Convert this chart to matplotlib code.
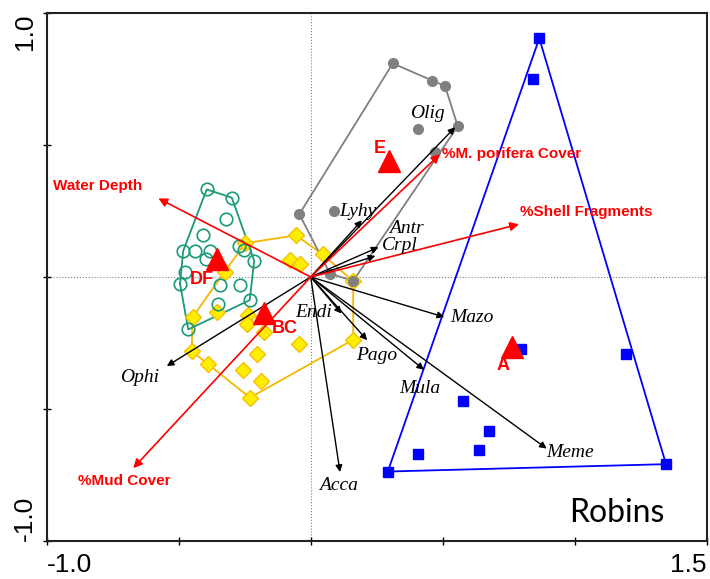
import numpy as np
import matplotlib.pyplot as plt
import matplotlib.transforms as mtransforms

# site scores by group (axis 1, axis 2)
df_x = [-0.394, -0.299, -0.321, -0.409, -0.483, -0.437, -0.381, -0.397, -0.270,
        -0.251, -0.214, -0.476, -0.495, -0.344, -0.268, -0.350, -0.231, -0.464]
df_y = [0.332, 0.301, 0.218, 0.158, 0.099, 0.098, 0.099, 0.070, 0.117,
        0.103, 0.062, 0.017, -0.025, -0.032, -0.032, -0.104, -0.088, -0.199]

bc_x = [-0.249, -0.056, 0.045, -0.078, -0.041, 0.161, -0.325, -0.447, -0.354, -0.236,
        -0.240, -0.177, -0.043, 0.161, -0.451, -0.202, -0.388, -0.255, -0.189, -0.230]
bc_y = [0.128, 0.158, 0.086, 0.063, 0.051, -0.016, 0.019, -0.152, -0.133, -0.145,
        -0.177, -0.209, -0.256, -0.238, -0.281, -0.291, -0.331, -0.352, -0.395, -0.458]

e_x = [0.311, 0.458, 0.509, 0.557, 0.405, 0.471, -0.043, 0.088, 0.073, 0.161]
e_y = [0.810, 0.744, 0.724, 0.572, 0.560, 0.475, 0.238, 0.251, 0.013, -0.015]

a_x = [0.866, 0.841, 0.797, 1.194, 0.578, 0.674, 0.636, 0.406, 0.292, 1.346]
a_y = [0.905, 0.752, -0.274, -0.293, -0.472, -0.583, -0.655, -0.670, -0.738, -0.710]

# group centroids
cent_names = ['DF', 'BC', 'E', 'A']
cent_x = [-0.356, -0.177, 0.298, 0.764]
cent_y = [0.070, -0.137, 0.439, -0.266]

# species arrows
sp_names = ['Olig', 'Lyhy', 'Antr', 'Crpl', 'Mazo', 'Pago', 'Mula', 'Meme', 'Endi', 'Acca', 'Ophi']
sp_x = [0.547, 0.194, 0.257, 0.245, 0.506, 0.214, 0.429, 0.894, 0.117, 0.111, -0.545]
sp_y = [0.568, 0.215, 0.113, 0.080, -0.152, -0.240, -0.352, -0.651, -0.139, -0.740, -0.338]

# environmental arrows
env_names = ['Water Depth', '%M. porifera Cover', '%Shell Fragments', '%Mud Cover']
env_x = [-0.577, 0.490, 0.789, -0.672]
env_y = [0.298, 0.466, 0.200, -0.725]

# label placement
sp_lab_x = [0.443, 0.179, 0.364, 0.338, 0.612, 0.250, 0.414, 0.982, 0.010, 0.105, -0.647]
sp_lab_y = [0.620, 0.249, 0.184, 0.120, -0.154, -0.297, -0.424, -0.664, -0.135, -0.791, -0.380]
env_lab_x = [-0.808, 0.496, 0.793, -0.706]
env_lab_y = [0.344, 0.466, 0.247, -0.772]
env_lab_ha = ['center', 'left', 'left', 'center']
cent_off = [(-11, -15), (15, -11), (-7, 9), (-7, -13)]


def hull(xs, ys):
    pts = sorted(set(zip(xs, ys)))

    def cross(o, a, b):
        return (a[0]-o[0])*(b[1]-o[1]) - (a[1]-o[1])*(b[0]-o[0])
    lower, upper = [], []
    for p in pts:
        while len(lower) >= 2 and cross(lower[-2], lower[-1], p) <= 0:
            lower.pop()
        lower.append(p)
    for p in reversed(pts):
        while len(upper) >= 2 and cross(upper[-2], upper[-1], p) <= 0:
            upper.pop()
        upper.append(p)
    h = lower[:-1] + upper[:-1]
    h.append(h[0])
    return np.array(h)


fig = plt.figure(figsize=(7.1, 5.79), dpi=100)
ax = fig.add_axes([0.0658, 0.0663, 0.9295, 0.9107])

ax.axhline(0, color='gray', lw=0.8, ls=':', zorder=1)
ax.axvline(0, color='gray', lw=0.8, ls=':', zorder=1)

groups = [
    (bc_x, bc_y, '#f5b800', dict(marker='D', ms=8, mfc='#ffee00', mec='#f5c000', mew=1.0)),
    (df_x, df_y, '#1a9a78', dict(marker='o', ms=9, mfc='none', mec='#1a9a78', mew=1.2)),
    (e_x, e_y, '#808080', dict(marker='o', ms=7, mfc='#808080', mec='#808080')),
    (a_x, a_y, '#0000ff', dict(marker='s', ms=7, mfc='#0000ff', mec='#0000ff')),
]
for gx, gy, col, mk in groups:
    h = hull(gx, gy)
    ax.plot(h[:, 0], h[:, 1], color=col, lw=1.3, zorder=2)
    ax.plot(gx, gy, ls='none', zorder=3, **mk)

for i, name in enumerate(sp_names):
    ax.annotate('', xy=(sp_x[i], sp_y[i]), xytext=(0, 0),
                arrowprops=dict(arrowstyle='-|>', color='black', lw=1.0,
                                mutation_scale=10, shrinkA=0, shrinkB=0), zorder=4)
    ax.text(sp_lab_x[i], sp_lab_y[i], name, fontsize=14, style='italic',
            family='Liberation Serif', ha='center', va='center', zorder=6)

for i, name in enumerate(env_names):
    ax.annotate('', xy=(env_x[i], env_y[i]), xytext=(0, 0),
                arrowprops=dict(arrowstyle='-|>', color='red', lw=1.2,
                                mutation_scale=13, shrinkA=0, shrinkB=0), zorder=5)
    ax.text(env_lab_x[i], env_lab_y[i], name, fontsize=11, fontweight='bold', color='red',
            family='Liberation Sans', ha=env_lab_ha[i], va='center', zorder=6)

ax.plot(cent_x, cent_y, ls='none', marker='^', ms=16, color='red', zorder=7)
for i, name in enumerate(cent_names):
    ax.annotate(name, (cent_x[i], cent_y[i]), xytext=cent_off[i], textcoords='offset points',
                ha='center', va='center', color='red', fontweight='bold',
                fontsize=13, family='Liberation Sans', zorder=7)

ax.text(0.864, 0.052, 'Robins', transform=ax.transAxes, fontsize=23, family='Lato',
        ha='center', va='center')

ax.set_xlim(-1.0, 1.5)
ax.set_ylim(-1.0, 1.0)
ax.set_xticks([-1.0, -0.5, 0, 0.5, 1.0, 1.5])
ax.set_xticklabels(['-1.0', '', '', '', '', '1.5'])
ax.set_yticks([-1.0, -0.5, 0, 0.5, 1.0])
ax.set_yticklabels(['-1.0', '', '', '', '1.0'], rotation=90)
for lab in ax.get_xticklabels() + ax.get_yticklabels():
    lab.set_fontfamily('Liberation Sans')
    lab.set_fontsize(19)
ax.get_xticklabels()[0].set_ha('left')
ax.get_xticklabels()[-1].set_ha('right')
ax.get_yticklabels()[0].set_va('bottom')
top_lab = ax.get_yticklabels()[-1]
top_lab.set_va('top')
top_lab.set_transform(top_lab.get_transform() +
                      mtransforms.ScaledTranslation(0, -6 / 72, fig.dpi_scale_trans))
ax.tick_params(direction='inout', length=6, width=1.0, pad=6)
ax.tick_params(axis='y', pad=4)
for s in ax.spines.values():
    s.set_linewidth(1.5)
    s.set_color('#222222')

plt.savefig('out.png', dpi=100)
